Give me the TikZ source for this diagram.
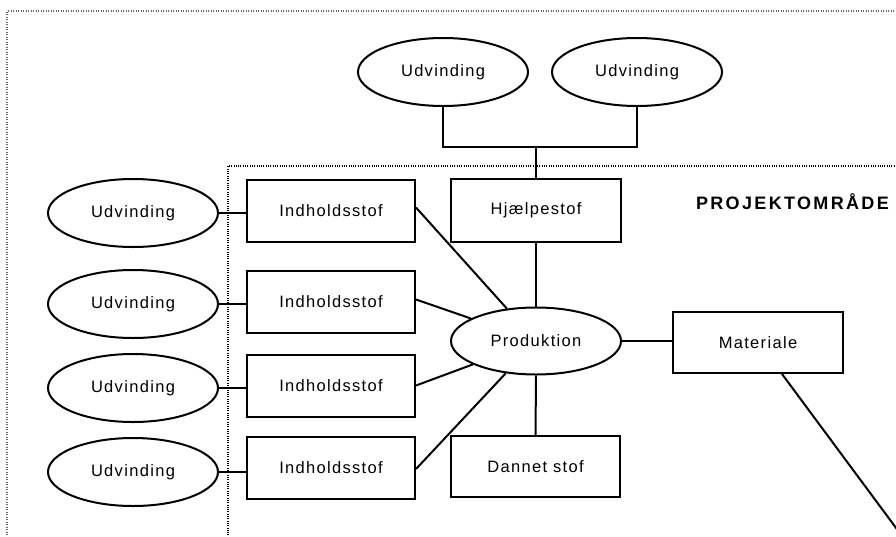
\documentclass[tikz,border=0pt]{standalone}
\usepackage{fontspec}
\setmainfont{Liberation Sans}
\newfontfamily\lblfont[LetterSpace=8]{Liberation Sans}
\newfontfamily\titlefont[LetterSpace=13]{Liberation Sans Bold}
\usetikzlibrary{shapes.geometric}
\tikzset{
  ell/.style={draw, ellipse, line width=2pt, minimum width=170pt, minimum height=68pt, inner sep=0pt, font=\lblfont\fontsize{16.5}{18}\selectfont},
  boxn/.style={draw, rectangle, line width=2pt, minimum width=168pt, minimum height=62pt, inner sep=0pt, font=\lblfont\fontsize{16.5}{18}\selectfont},
  conn/.style={line width=2pt},
  outerb/.style={gray!80!black, line width=1.2pt, dash pattern=on 1pt off 1.5pt},
  innerb/.style={black, line width=1.4pt, dash pattern=on 1pt off 1.3pt}
}
\begin{document}
\begin{tikzpicture}[x=1pt,y=-1pt]
\useasboundingbox (0,0) rectangle (896,536);
\clip (0,0) rectangle (896,536);
\fill[white] (0,0) rectangle (896,536);
% borders
\draw[outerb] (7,540) -- (7,11) -- (900,11);
\draw[innerb] (228,540) -- (228,166) -- (900,166);
\node[font=\titlefont\fontsize{18}{20}\selectfont, anchor=east, inner sep=0pt] (title) at (889,202) {PROJEKTOMRÅDE};
% top ellipses
\node[ell] (t1) at (443,72) {Udvinding};
\node[ell] (t2) at (637,72) {Udvinding};
\coordinate (j) at (536,147);
% left ellipses
\node[ell] (u1) at (133,213) {Udvinding};
\node[ell] (u2) at (133,304) {Udvinding};
\node[ell] (u3) at (133,388) {Udvinding};
\node[ell] (u4) at (133,472) {Udvinding};
% content boxes
\node[boxn] (b1) at (331,210.5) {Indholdsstof};
\node[boxn] (b2) at (331,301.5) {Indholdsstof};
\node[boxn] (b3) at (331,385.5) {Indholdsstof};
\node[boxn] (b4) at (331,468) {Indholdsstof};
% centre column
\node[boxn, minimum width=170pt, minimum height=63pt] (hj) at (536,210.5) {Hjælpestof};
\node[ell, minimum height=67pt] (prod) at (536,341) {Produktion};
\node[boxn, minimum width=170pt, minimum height=61pt] (mat) at (758,342.5) {Materiale};
\node[boxn, minimum width=169pt, minimum height=61pt] (dan) at (535.5,466.5) {Dannet stof};
\coordinate (mend) at (902,536);
% connectors
\draw[conn] (t1.south) -- (t1.south |- j) -- (t2.south |- j) -- (t2.south);
\draw[conn] (j) -- (hj.north);
\draw[conn] (u1.east) -- (u1.east -| b1.west);
\draw[conn] (u2.east) -- (u2.east -| b2.west);
\draw[conn] (u3.east) -- (u3.east -| b3.west);
\draw[conn] (u4.east) -- (u4.east -| b4.west);
\draw[conn] ([yshift=3pt]b1.east) -- (prod);
\draw[conn] ([yshift=2pt]b2.east) -- (prod);
\draw[conn] ([yshift=0pt]b3.east) -- (prod);
\draw[conn] ([yshift=-1pt]b4.east) -- (prod);
\draw[conn] (hj.south) -- (prod.north);
\draw[conn] (prod.south) -- (dan.north);
\draw[conn] (prod.east) -- (prod.east -| mat.west);
\draw[conn] ([xshift=24pt]mat.south) -- (mend);
\end{tikzpicture}
\end{document}
